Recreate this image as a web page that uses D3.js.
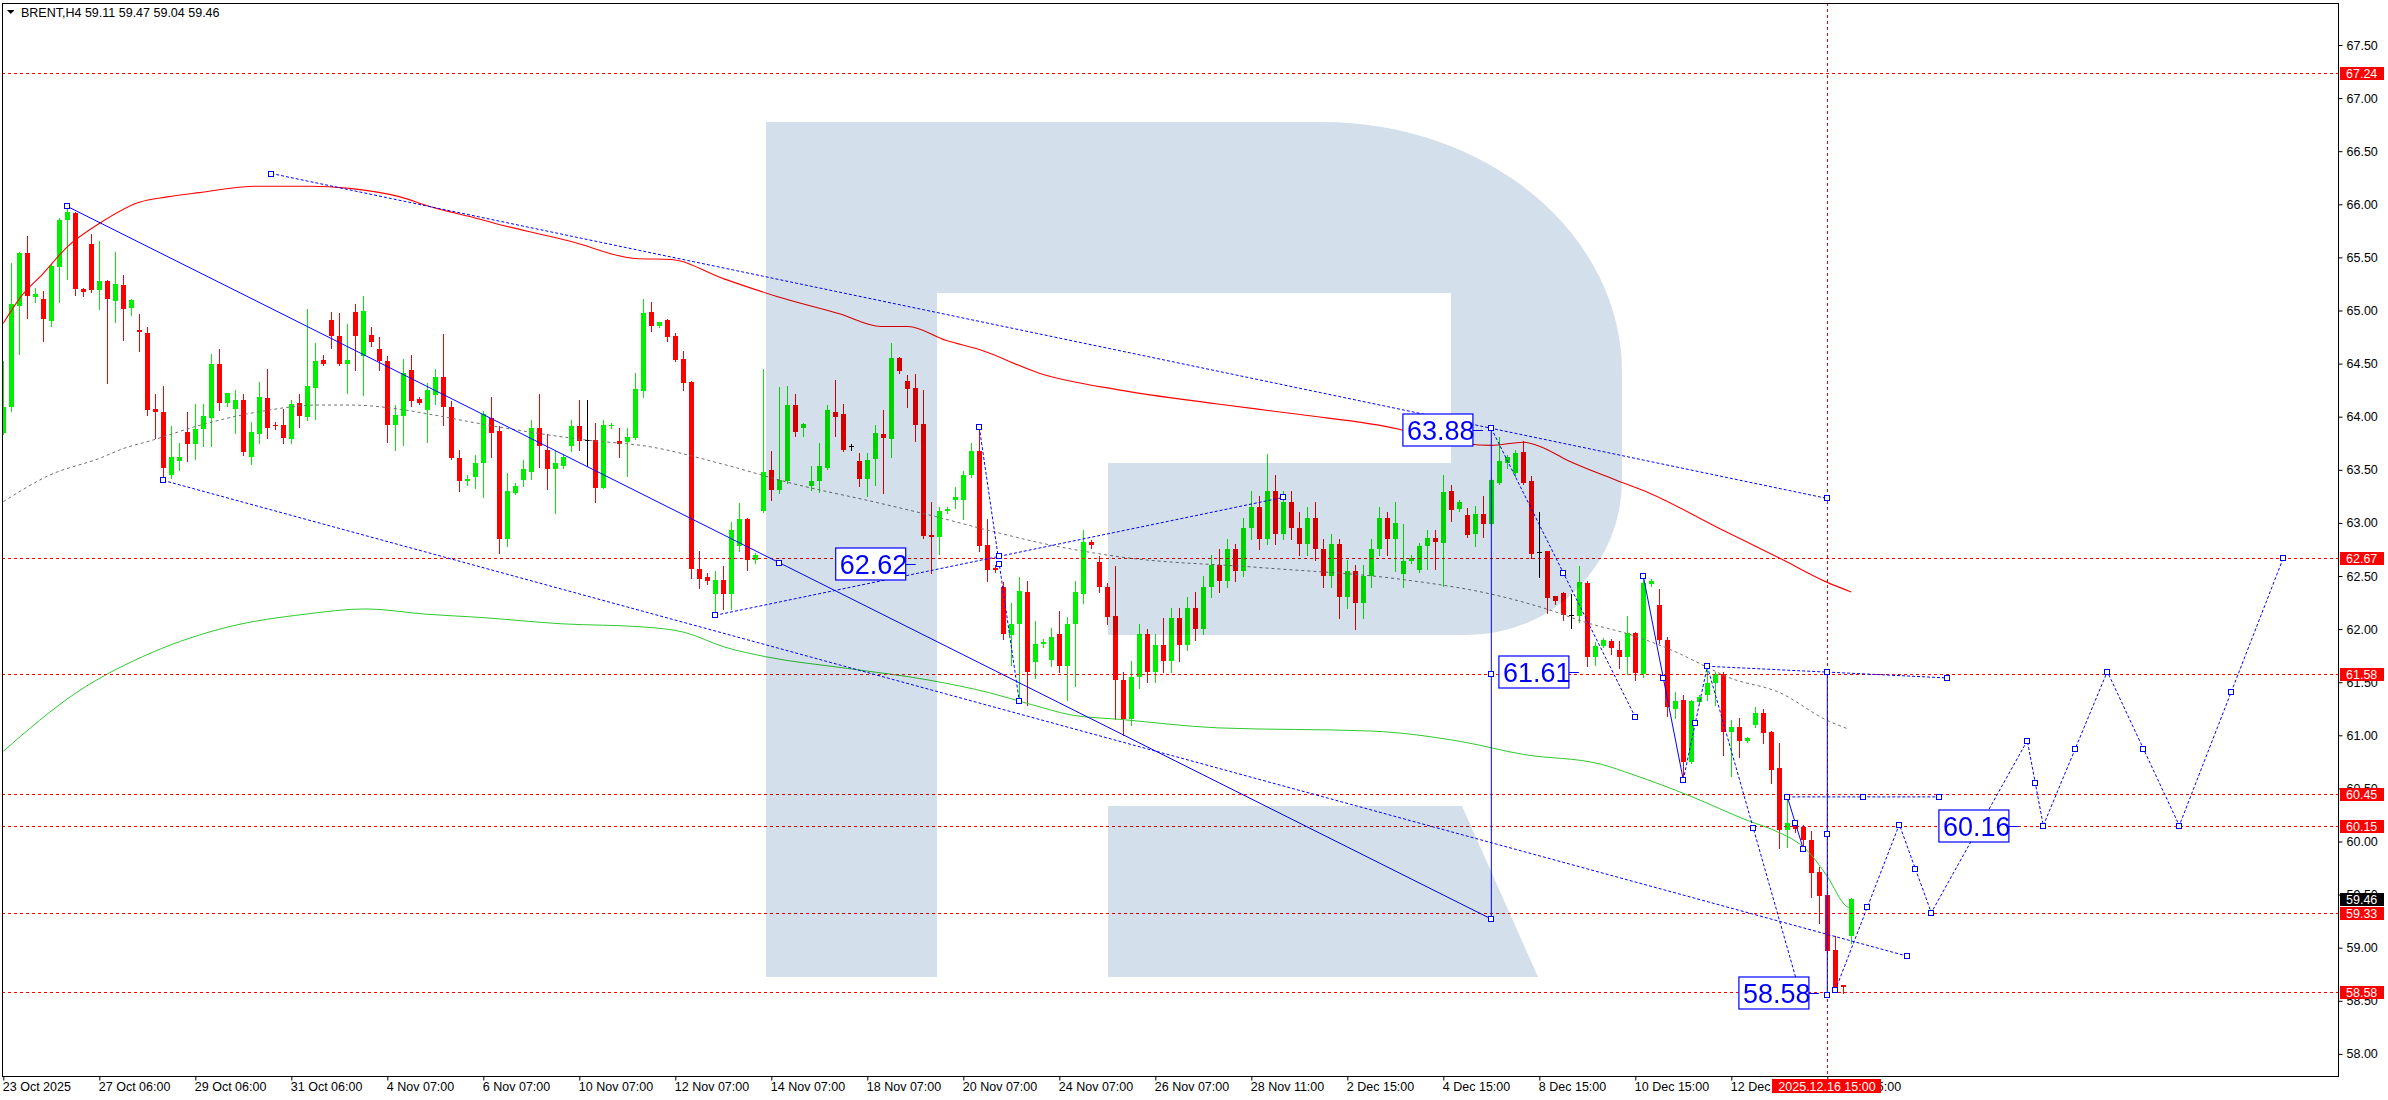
<!DOCTYPE html>
<html>
<head>
<meta charset="utf-8">
<title>BRENT,H4</title>
<style>
  html, body { margin: 0; padding: 0; background: #fff; }
  svg { display: block; }
  text { font-family: "Liberation Sans", Arial, sans-serif; }
</style>
</head>
<body>
<div id="chart"></div>
<script src="https://cdn.jsdelivr.net/npm/d3@7/dist/d3.min.js"></script>
<script>
(function (d3) {
  'use strict';

  // H4 bars, bar 0 = 23 Oct 2025
  var opens = [63.85,64.09,65.04,65.54,65.13,65.11,64.90,65.41,65.85,65.92,65.20,65.63,65.19,65.28,65.09,65.24,65.02,64.82,64.79,64.07,
    64.04,63.45,63.58,63.86,63.74,63.88,63.99,64.50,64.13,64.07,64.16,63.62,63.84,64.18,63.92,63.92,63.79,64.13,64.00,64.27,
    64.53,64.91,64.76,64.50,64.99,64.57,64.77,64.64,64.52,63.92,64.01,64.44,64.17,64.06,64.20,64.37,64.09,63.61,63.39,63.43,
    63.56,63.99,63.87,62.85,63.28,63.40,63.48,63.89,63.69,63.51,63.54,63.72,63.91,63.78,63.78,63.33,63.91,63.77,63.76,63.80,
    64.24,64.99,64.85,64.91,64.76,64.54,64.33,62.57,62.49,62.33,62.46,62.33,62.78,63.04,62.65,63.11,63.50,63.31,63.39,64.11,
    63.89,63.35,63.39,63.52,64.04,64.03,63.72,63.58,63.41,63.60,63.84,63.79,64.55,64.34,64.27,63.93,62.89,62.87,63.11,63.22,
    63.22,63.45,63.68,62.79,62.58,62.40,61.94,62.05,62.35,61.69,61.86,61.71,61.95,61.65,62.05,62.33,62.82,62.63,62.40,62.12,
    61.52,61.15,61.55,61.95,61.60,61.85,61.70,62.10,61.85,62.20,62.00,62.40,62.60,62.45,62.75,62.55,62.95,63.15,62.85,63.30,
    62.90,63.20,62.95,62.80,63.05,62.75,62.50,62.80,62.30,62.55,62.25,62.50,62.75,63.05,62.85,62.52,62.64,62.56,62.78,62.86,
    62.81,63.30,63.13,63.07,62.90,63.08,62.99,63.38,63.56,63.47,63.67,63.39,62.73,62.74,62.31,62.34,62.13,62.12,62.43,61.74,
    61.84,61.89,61.80,61.74,61.96,61.58,62.42,62.23,61.90,61.25,61.33,60.75,61.31,61.38,61.49,61.58,61.03,61.08,60.95,61.10,
    61.21,61.03,60.69,60.11,60.16,60.14,60.01,59.71,59.50,58.98,58.65,59.11];
  var highs = [64.52,65.45,65.55,65.70,65.21,65.18,65.44,65.87,65.98,65.93,65.21,65.72,65.65,65.29,65.55,65.33,65.11,64.97,64.84,64.21,
    64.29,63.91,63.75,64.04,64.12,64.12,64.59,64.64,64.22,64.25,64.21,63.95,64.33,64.45,63.95,64.07,64.16,64.21,65.01,64.69,
    64.58,64.99,64.98,64.87,65.06,65.14,64.84,64.75,64.57,64.11,64.54,64.58,64.19,64.32,64.45,64.78,64.15,63.69,63.45,63.64,
    64.05,64.19,63.91,63.47,63.38,63.59,63.97,64.21,63.84,63.68,63.65,63.97,64.16,64.16,63.94,63.97,63.94,63.89,63.89,64.41,
    65.11,65.08,64.89,64.92,64.79,64.62,64.34,62.74,62.53,62.55,62.59,63.01,63.19,63.05,62.72,64.45,63.68,64.28,64.29,64.21,
    63.94,63.54,63.75,64.11,64.35,64.12,63.74,63.66,63.66,63.92,64.06,64.69,64.56,64.39,64.40,64.25,63.20,63.15,63.15,63.34,
    63.49,63.75,63.90,63.04,62.60,62.44,62.25,62.49,62.45,62.08,61.91,62.01,62.17,62.11,62.45,62.93,62.84,62.69,62.43,62.59,
    61.60,61.70,62.05,62.00,61.95,62.10,62.20,62.20,62.30,62.35,62.50,62.70,62.75,62.85,62.80,63.05,63.30,63.25,63.65,63.45,
    63.30,63.30,63.10,63.15,63.20,62.85,62.90,62.85,62.65,62.60,62.60,62.85,63.15,63.10,63.20,62.99,62.70,62.81,62.93,62.93,
    63.45,63.36,63.22,63.14,63.16,63.25,63.41,63.81,63.64,63.69,63.77,63.44,63.10,62.74,62.31,62.35,62.33,62.59,62.45,61.88,
    61.92,61.91,61.89,62.12,61.97,62.51,62.47,62.38,61.93,61.41,61.38,61.33,61.38,61.64,61.60,61.60,61.14,61.16,60.98,61.27,
    61.25,61.04,60.93,60.42,60.20,60.16,60.10,59.76,59.50,59.11,58.65,59.47];
  var lows = [63.84,64.05,64.59,64.93,65.08,64.71,64.85,65.08,65.30,65.15,65.14,65.17,65.01,64.32,64.89,64.72,64.96,64.62,64.02,63.80,
    63.40,63.42,63.50,63.58,63.60,63.72,63.72,64.06,64.10,63.85,63.64,63.55,63.75,63.80,63.88,63.75,63.75,63.90,63.97,63.98,
    64.49,64.65,64.49,64.22,64.44,64.20,64.67,64.44,63.76,63.69,63.73,64.10,64.12,63.76,64.12,63.92,63.60,63.30,63.36,63.33,
    63.24,63.62,62.72,62.78,63.27,63.35,63.41,63.53,63.32,63.09,63.52,63.68,63.69,63.54,63.20,63.33,63.89,63.62,63.44,63.79,
    64.19,64.81,64.84,64.71,64.52,64.25,62.48,62.39,62.42,62.12,62.19,62.19,62.74,62.56,62.62,63.10,63.22,63.28,63.38,63.82,
    63.82,63.31,63.29,63.51,63.82,63.68,63.69,63.35,63.25,63.36,63.28,63.62,64.41,64.09,63.77,62.86,62.53,62.71,63.09,63.14,
    63.04,63.43,62.74,62.45,62.54,61.91,61.66,61.31,61.29,61.54,61.83,61.65,61.60,61.33,61.46,62.25,62.76,62.35,62.05,61.15,
    61.00,61.10,61.45,61.50,61.50,61.60,61.60,61.70,61.80,61.90,61.95,62.30,62.35,62.40,62.45,62.50,62.85,62.75,62.80,62.80,
    62.85,62.85,62.70,62.70,62.65,62.40,62.40,62.10,62.20,62.00,62.10,62.40,62.70,62.70,62.55,62.40,62.62,62.54,62.57,62.57,
    62.41,63.02,63.11,62.87,62.78,62.87,62.98,63.37,63.52,63.44,63.37,62.67,62.49,62.15,62.24,62.09,62.01,62.07,61.65,61.66,
    61.83,61.77,61.63,61.58,61.52,61.55,62.41,61.87,61.18,61.16,60.58,60.74,61.30,61.33,61.29,60.81,60.62,60.80,60.94,61.08,
    60.93,60.55,59.94,59.95,60.09,59.92,59.48,59.23,58.96,58.58,58.57,59.04];
  var closes = [64.09,65.06,65.54,65.14,65.16,64.92,65.42,65.85,65.93,65.20,65.17,65.19,65.28,65.11,65.25,65.01,65.10,64.80,64.06,64.04,
    63.52,63.62,63.62,63.74,63.88,64.01,64.50,64.13,64.22,64.16,63.67,63.86,64.19,63.89,63.91,63.80,64.12,64.01,64.29,64.52,
    64.50,64.76,64.50,64.53,64.76,65.00,64.70,64.52,63.92,64.02,64.41,64.15,64.13,64.25,64.37,64.09,63.61,63.39,63.41,63.56,
    64.03,63.85,62.85,63.30,63.35,63.51,63.89,63.72,63.51,63.56,63.62,63.91,63.77,63.78,63.33,63.92,63.92,63.74,63.81,64.26,
    64.98,64.85,64.89,64.75,64.53,64.32,62.57,62.47,62.45,62.46,62.33,62.93,63.04,62.65,62.70,63.48,63.31,63.40,64.11,63.86,
    63.93,63.39,63.54,64.06,64.00,63.69,63.72,63.41,63.59,63.85,63.80,64.55,64.43,64.26,63.92,62.88,62.87,63.11,63.13,63.24,
    63.45,63.68,62.78,62.56,62.56,61.95,62.05,62.36,61.60,61.86,61.88,61.93,61.65,62.05,62.35,62.82,62.79,62.40,62.11,61.52,
    61.15,61.55,61.95,61.60,61.85,61.70,62.10,61.85,62.20,62.00,62.40,62.60,62.45,62.75,62.55,62.95,63.15,62.85,63.30,62.90,
    63.20,62.95,62.80,63.05,62.75,62.50,62.80,62.30,62.55,62.25,62.50,62.75,63.05,62.85,63.00,62.64,62.67,62.78,62.86,62.82,
    63.29,63.12,63.20,62.89,63.08,62.99,63.40,63.58,63.62,63.66,63.38,62.71,62.73,62.29,62.26,62.13,62.13,62.44,61.74,61.84,
    61.90,61.82,61.74,61.96,61.59,62.43,62.45,61.90,61.27,61.32,60.75,61.32,61.36,61.49,61.58,61.03,61.08,60.95,60.97,61.21,
    61.02,60.67,60.11,60.17,60.12,60.01,59.70,59.49,58.97,58.63,58.63,59.46];

  // moving averages read at sample bars
  var maRedBars = [0,2,5,8,12,17,20.5,24.5,31.7,38.3,43.3,49.6,53.3,59.6,61.5,71,79,83.5,90,96.8,104.5,109.7,113.1,117.8,122.1,129.5,139.6,151.8,162.1,174.6,178.7,186,190,192.1,195.5,201.7,205.8,214.2,222.5,228,231];
  var maRedVals = [64.88,65.11,65.35,65.60,65.82,66.02,66.07,66.11,66.17,66.17,66.15,66.07,65.98,65.86,65.82,65.65,65.49,65.48,65.30,65.13,64.97,64.85,64.85,64.72,64.63,64.41,64.25,64.12,64.02,63.88,63.80,63.73,63.76,63.72,63.59,63.40,63.28,62.96,62.65,62.44,62.35];
  var maGreenBars = [0,9.1,18.6,28.1,37.7,45.3,52.9,59.6,69.8,80,85.1,90.2,95.3,105.5,115.7,123.3,128.5,133.6,139.6,151.8,171,182.3,190,199.6,203.7,210.8,218.3,221.2,225.8,228,230.4,231];
  var maGreenVals = [60.85,61.40,61.78,62.02,62.14,62.19,62.14,62.11,62.05,62.02,61.97,61.83,61.74,61.63,61.52,61.40,61.29,61.19,61.15,61.07,61.04,60.94,60.82,60.73,60.63,60.43,60.19,60.11,59.89,59.67,59.39,59.37];
  var maGrayBars = [0,5.8,12.1,15,18.7,24.6,33,39.2,43.3,49.6,52.8,61.4,72.9,80.6,90.1,98.7,109.3,116.5,122.1,131,139.6,157,174.6,187.1,193.3,197.5,203.7,209.2,213,215.5,222.1,228,230.6];
  var maGrayVals = [63.20,63.45,63.61,63.70,63.78,63.92,64.06,64.11,64.11,64.07,64.03,63.91,63.78,63.72,63.55,63.37,63.19,63.06,62.95,62.79,62.68,62.58,62.47,62.31,62.18,62.07,61.94,61.78,61.64,61.55,61.40,61.14,61.06];

  var priceTicks = d3.range(58, 67.51, 0.5);
  var timeTickBars = [0,12,24,36,48,60,72,84,96,108,120,132,144,156,168,180,192,204,216,228];
  var timeTickLabels = ['23 Oct 2025','27 Oct 06:00','29 Oct 06:00','31 Oct 06:00','4 Nov 07:00','6 Nov 07:00','10 Nov 07:00','12 Nov 07:00',
    '14 Nov 07:00','18 Nov 07:00','20 Nov 07:00','24 Nov 07:00','26 Nov 07:00','28 Nov 11:00','2 Dec 15:00','4 Dec 15:00','8 Dec 15:00',
    '10 Dec 15:00','12 Dec 15:00','16 Dec 15:00'];

  var levels = [67.24, 62.67, 61.58, 60.45, 60.15, 59.33, 58.58];
  var lastPrice = 59.46;
  var cursorBar = 228, cursorLabel = '2025.12.16 15:00';

  // analysis objects: [bar, price] pairs, the last flag says whether the mid point is marked
  var solidLines = [
    [[8, 65.98], [186, 59.27], true],
    [[186, 63.89], [186, 59.27], true],
    [[228, 61.60], [228, 58.55], true],
    [[205, 62.50], [210, 60.58], true],
    [[223, 60.42], [225, 59.93], true]
  ];
  var dottedLines = [
    [[33.5, 66.29], [228, 63.23], false],
    [[20, 63.40], [238, 58.92], false],
    [[89, 62.13], [160, 63.24], true],
    [[122, 63.90], [127, 61.32], true],
    [[186, 63.89], [204, 61.17], true],
    [[210, 60.58], [213, 61.65], true],
    [[213, 61.65], [243, 61.54], true],
    [[213, 61.65], [224.5, 58.60], true],
    [[223, 60.42], [242, 60.42], true]
  ];
  var zigzagBars = [229, 237, 241, 253, 255, 263, 272, 285];
  var zigzagVals = [58.60, 60.16, 59.33, 60.95, 60.15, 61.60, 60.15, 62.67];

  var labelTexts = ['63.88', '62.62', '61.61', '58.58', '60.16'];
  var labelBars = [183.7, 112.8, 195.7, 225.7, 250.7];
  var labelVals = [63.875, 62.61, 61.60, 58.575, 60.15];

  var W = 2388, H = 1100;
  var L = 2, T = 3, R = 2338, B = 1076;
  var blue = '#0000ff', red = '#ff0000', up = '#00ee00';

  var x = d3.scaleLinear().domain([0, 1]).range([3.3, 11.3]);
  var y = d3.scaleLinear().domain([58, 67.5]).range([1053.9, 45]);

  var svg = d3.select('#chart').append('svg')
    .attr('width', W).attr('height', H);
  svg.append('rect').attr('width', W).attr('height', H).attr('fill', '#fff');

  svg.append('defs').append('clipPath').attr('id', 'plotclip')
    .append('rect').attr('x', L).attr('y', T).attr('width', R - L).attr('height', B - T);

  var plot = svg.append('g').attr('clip-path', 'url(#plotclip)');

  // candles
  var bars = d3.range(opens.length);
  var cg = plot.append('g');
  bars.forEach(function (i) {
    var o = opens[i], c = closes[i], h = highs[i], l = lows[i];
    var cx = Math.round(x(i));
    var col = c > o ? up : (c < o ? red : '#000');
    cg.append('line')
      .attr('x1', cx + 0.5).attr('x2', cx + 0.5)
      .attr('y1', Math.round(y(h))).attr('y2', Math.round(y(l)) + 1)
      .attr('stroke', col).attr('stroke-width', 1);
    var top = Math.round(y(Math.max(o, c)));
    var bot = Math.round(y(Math.min(o, c)));
    cg.append('rect')
      .attr('x', cx - 2).attr('y', top)
      .attr('width', 5).attr('height', Math.max(1, bot - top))
      .attr('fill', col);
  });

  function maLine(bs, vs, color, dash, w) {
    var pts = bs.map(function (b, k) { return [x(b), y(vs[k])]; });
    plot.append('path')
      .attr('d', d3.line().curve(d3.curveMonotoneX)(pts))
      .attr('fill', 'none').attr('stroke', color)
      .attr('stroke-width', w).attr('stroke-dasharray', dash);
  }
  maLine(maGreenBars, maGreenVals, '#2ec82e', null, 1);
  maLine(maGrayBars, maGrayVals, '#707070', '3,3', 1);
  maLine(maRedBars, maRedVals, '#ff0000', null, 1.1);

  // horizontal levels and cursor line
  plot.selectAll('.lvl').data(levels).enter().append('line')
    .attr('x1', L).attr('x2', R)
    .attr('y1', function (d) { return Math.round(y(d)) + 0.5; })
    .attr('y2', function (d) { return Math.round(y(d)) + 0.5; })
    .attr('stroke', red).attr('stroke-dasharray', '3,3');
  plot.append('line')
    .attr('x1', Math.round(x(cursorBar)) + 0.5).attr('x2', Math.round(x(cursorBar)) + 0.5)
    .attr('y1', T).attr('y2', B)
    .attr('stroke', red).attr('stroke-dasharray', '3,3');

  // blue analysis lines
  function seg(p, dash) {
    plot.append('line')
      .attr('x1', x(p[0][0])).attr('y1', y(p[0][1]))
      .attr('x2', x(p[1][0])).attr('y2', y(p[1][1]))
      .attr('stroke', blue).attr('stroke-width', 1)
      .attr('stroke-dasharray', dash);
  }
  solidLines.forEach(function (p) { seg(p, null); });
  dottedLines.forEach(function (p) { seg(p, '3,2'); });
  plot.append('path')
    .attr('d', d3.line()(zigzagBars.map(function (b, k) { return [x(b), y(zigzagVals[k])]; })))
    .attr('fill', 'none').attr('stroke', blue).attr('stroke-dasharray', '3,2');

  // watermark logo
  var wm = plot.append('g').style('mix-blend-mode', 'multiply');
  wm.append('path')
    .attr('d', 'M766,122 H1322 A300,250 0 0 1 1622,372 V480 A155,155 0 0 1 1467,635 H1108 V463 H1451 V293 H937 V977 H766 Z')
    .attr('fill', '#d3dfeb');
  wm.append('path')
    .attr('d', 'M1108,806 H1462 L1538,977 H1108 Z')
    .attr('fill', '#d3dfeb');

  // anchor markers
  var marks = [];
  solidLines.concat(dottedLines).forEach(function (p) {
    marks.push(p[0], p[1]);
    if (p[2]) marks.push([(p[0][0] + p[1][0]) / 2, (p[0][1] + p[1][1]) / 2]);
  });
  zigzagBars.forEach(function (b, k) {
    marks.push([b, zigzagVals[k]]);
    if (k > 0) marks.push([(b + zigzagBars[k - 1]) / 2, (zigzagVals[k] + zigzagVals[k - 1]) / 2]);
  });
  plot.selectAll('.mk').data(marks).enter().append('rect')
    .attr('x', function (d) { return Math.round(x(d[0])) - 2.5; })
    .attr('y', function (d) { return Math.round(y(d[1])) - 2.5; })
    .attr('width', 5).attr('height', 5)
    .attr('fill', '#fff').attr('stroke', blue).attr('stroke-width', 1);

  // price labels
  labelTexts.forEach(function (t, k) {
    var rx = x(labelBars[k]), cy = Math.round(y(labelVals[k]));
    plot.append('line').attr('x1', rx).attr('x2', rx + 10)
      .attr('y1', cy + 0.5).attr('y2', cy + 0.5).attr('stroke', blue);
    plot.append('rect').attr('x', rx - 70).attr('y', cy - 16)
      .attr('width', 70).attr('height', 32)
      .attr('fill', '#fff').attr('stroke', blue).attr('stroke-width', 1.2);
    plot.append('text').attr('x', rx - 66).attr('y', cy + 10)
      .attr('fill', blue).attr('font-size', 27).text(t);
  });

  // frame
  svg.append('rect').attr('x', L + 0.5).attr('y', T + 0.5)
    .attr('width', R - L).attr('height', B - T)
    .attr('fill', 'none').attr('stroke', '#000');

  // price axis
  var fmt = d3.format('.2f');
  var ya = svg.append('g').attr('transform', 'translate(' + (R + 0.5) + ',0)')
    .call(d3.axisRight(y).tickValues(priceTicks).tickSize(4).tickPadding(4).tickFormat(fmt));
  ya.select('.domain').remove();
  ya.selectAll('text').attr('font-family', '"Liberation Sans", Arial, sans-serif')
    .attr('font-size', 12.5).attr('fill', '#000');

  function axisTag(v, bg) {
    var cy = Math.round(y(v));
    svg.append('rect').attr('x', R + 2).attr('y', cy - 6)
      .attr('width', 44).attr('height', 13).attr('fill', bg);
    svg.append('text').attr('x', R + 8).attr('y', cy + 5)
      .attr('font-size', 12.5).attr('fill', '#fff').text(fmt(v));
  }
  levels.forEach(function (v) { axisTag(v, red); });
  axisTag(lastPrice, '#000');

  // time axis
  var xa = svg.append('g').attr('transform', 'translate(0,' + (B + 0.5) + ')')
    .call(d3.axisBottom(x).tickValues(timeTickBars).tickSize(4)
      .tickFormat(function (d, k) { return timeTickLabels[k]; }));
  xa.select('.domain').remove();
  xa.selectAll('text').attr('font-family', '"Liberation Sans", Arial, sans-serif')
    .attr('font-size', 12.5).attr('fill', '#000')
    .attr('text-anchor', 'start').attr('dx', -1).attr('y', 6);

  var cxp = Math.round(x(cursorBar));
  svg.append('rect').attr('x', cxp - 55).attr('y', B + 3)
    .attr('width', 109).attr('height', 14).attr('fill', red);
  svg.append('text').attr('x', cxp).attr('y', B + 15)
    .attr('text-anchor', 'middle').attr('font-size', 12.5).attr('fill', '#fff')
    .text(cursorLabel);

  // header
  svg.append('path').attr('d', 'M7,10 L14.5,10 L10.75,14 Z').attr('fill', '#000');
  svg.append('text').attr('x', 21).attr('y', 17).attr('font-size', 12.5).attr('fill', '#000')
    .text('BRENT,H4  ' + [opens[231], highs[231], lows[231], closes[231]].map(fmt).join(' '));
})(window.d3);
</script>
</body>
</html>
